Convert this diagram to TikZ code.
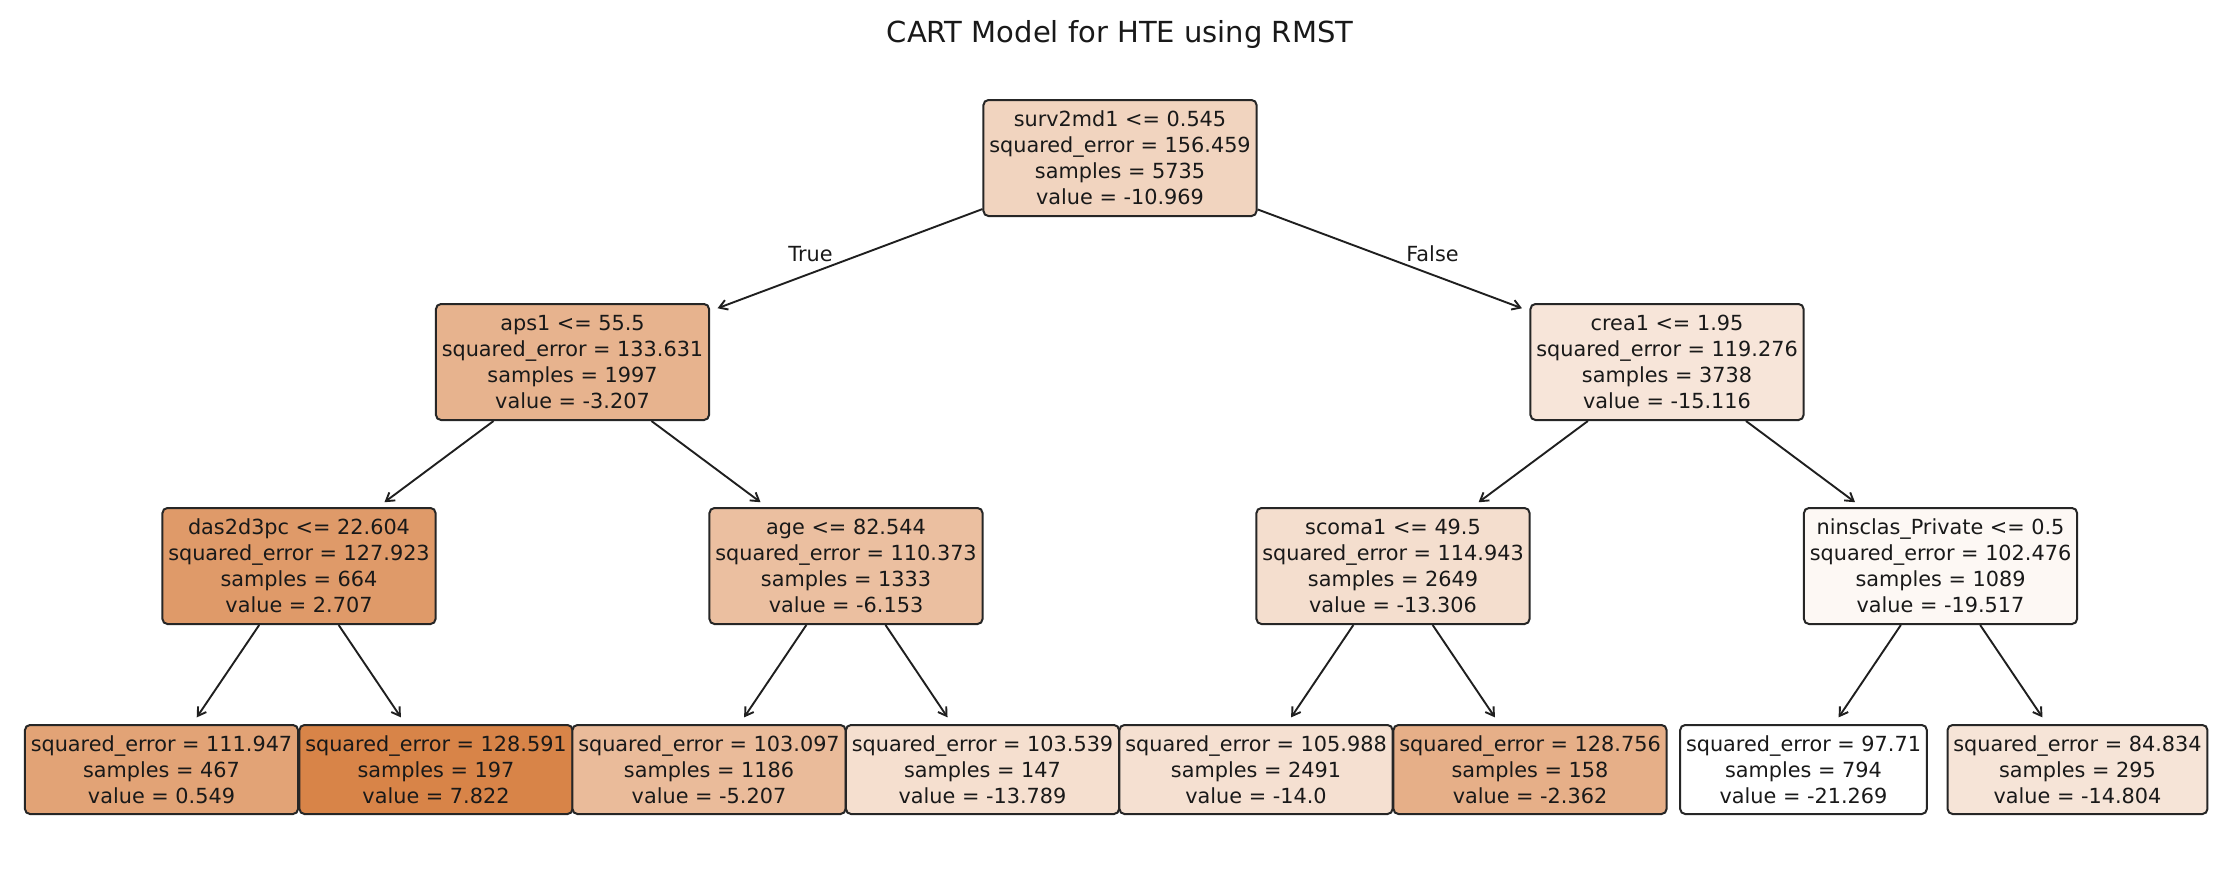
\documentclass[tikz,border=0pt]{standalone}
\usepackage{fontspec}
\setmainfont{DejaVu Sans}
\usetikzlibrary{arrows.meta}
\definecolor{cartorange}{RGB}{216,132,72}

\begin{document}
\begin{tikzpicture}[x=1pt, y=-1pt,
		every node/.style={font=\fontsize{20.8}{26}\selectfont, text=black!90},
		split/.style={draw=black!85, line width=2pt, rounded corners=5pt, align=center, inner xsep=5.8pt, minimum height=116pt},
		leaf/.style={split, minimum height=89pt},
		edge/.style={draw=black!88, line width=1.9pt, -{Straight Barb[length=8pt,width=10pt]}, shorten >=8pt}]
			%%%%% START %%%%%
			
			\useasboundingbox (0, 0) rectangle (2240, 878);
			
			\node[font=\fontsize{29}{35}\selectfont, anchor=base] (title) at (1120, 42.5) {CART Model for HTE using RMST};
			
			\node[split, fill=cartorange!35] (surv) at (1120, 158) {surv2md1 <= 0.545\\squared\_error = 156.459\\samples = 5735\\value = -10.969};
			
			\node[split, fill=cartorange!62] (aps) at (572.5, 362) {aps1 <= 55.5\\squared\_error = 133.631\\samples = 1997\\value = -3.207};
			\node[split, fill=cartorange!21] (crea) at (1667, 362) {crea1 <= 1.95\\squared\_error = 119.276\\samples = 3738\\value = -15.116};
			
			\node[split, fill=cartorange!82] (das) at (299, 566) {das2d3pc <= 22.604\\squared\_error = 127.923\\samples = 664\\value = 2.707};
			\node[split, fill=cartorange!52] (age) at (846, 566) {age <= 82.544\\squared\_error = 110.373\\samples = 1333\\value = -6.153};
			\node[split, fill=cartorange!27] (scoma) at (1393, 566) {scoma1 <= 49.5\\squared\_error = 114.943\\samples = 2649\\value = -13.306};
			\node[split, fill=cartorange!6] (nins) at (1940.5, 566) {ninsclas\_Private <= 0.5\\squared\_error = 102.476\\samples = 1089\\value = -19.517};
			
			\node[leaf, fill=cartorange!75] (l1) at (161.5, 769.5) {squared\_error = 111.947\\samples = 467\\value = 0.549};
			\node[leaf, fill=cartorange!100] (l2) at (436, 769.5) {squared\_error = 128.591\\samples = 197\\value = 7.822};
			\node[leaf, fill=cartorange!55] (l3) at (709, 769.5) {squared\_error = 103.097\\samples = 1186\\value = -5.207};
			\node[leaf, fill=cartorange!26] (l4) at (982.5, 769.5) {squared\_error = 103.539\\samples = 147\\value = -13.789};
			\node[leaf, fill=cartorange!25] (l5) at (1256, 769.5) {squared\_error = 105.988\\samples = 2491\\value = -14.0};
			\node[leaf, fill=cartorange!65] (l6) at (1530, 769.5) {squared\_error = 128.756\\samples = 158\\value = -2.362};
			\node[leaf, fill=white] (l7) at (1803.5, 769.5) {squared\_error = 97.71\\samples = 794\\value = -21.269};
			\node[leaf, fill=cartorange!22] (l8) at (2077.5, 769.5) {squared\_error = 84.834\\samples = 295\\value = -14.804};
			
			\draw[edge] (surv) -- (aps);
			\draw[edge] (surv) -- (crea);
			\node[anchor=base] (lbltrue) at (810.5, 261) {True};
			\node[anchor=base] (lblfalse) at (1432.5, 261) {False};
			
			\draw[edge] (aps) -- (das);
			\draw[edge] (aps) -- (age);
			\draw[edge] (crea) -- (scoma);
			\draw[edge] (crea) -- (nins);
			
			\draw[edge] (das) -- (l1);
			\draw[edge] (das) -- (l2);
			\draw[edge] (age) -- (l3);
			\draw[edge] (age) -- (l4);
			\draw[edge] (scoma) -- (l5);
			\draw[edge] (scoma) -- (l6);
			\draw[edge] (nins) -- (l7);
			\draw[edge] (nins) -- (l8);
			
			%%%%% END %%%%%
		\end{tikzpicture}
\end{document}
